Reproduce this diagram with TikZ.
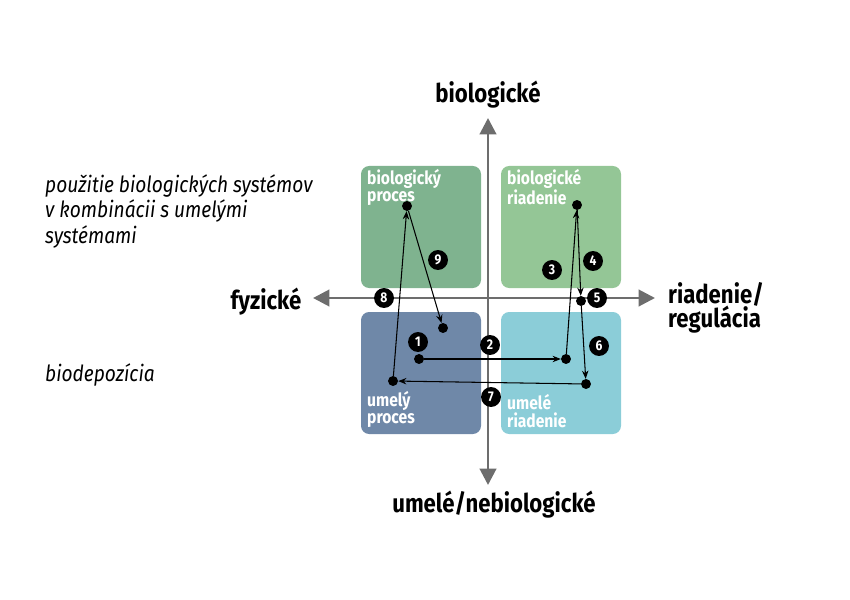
\documentclass[tikz,border=0pt]{standalone}
\usepackage{fontspec}
\setmainfont{Fira Sans}[FakeStretch=0.86]
\usetikzlibrary{arrows.meta}
\definecolor{procgreen}{RGB}{127,179,143}
\definecolor{ctrlgreen}{RGB}{148,198,150}
\definecolor{procblue}{RGB}{111,136,168}
\definecolor{ctrlcyan}{RGB}{139,205,216}
\definecolor{axisgray}{RGB}{109,109,109}
\tikzset{
  quad/.style={rounded corners=7pt},
  quadlabel/.style={text=white,font=\bfseries\fontsize{15.5}{15}\selectfont,align=left,inner sep=0pt},
  axis/.style={line width=2.5pt,draw=axisgray,{Triangle[length=14pt,width=14pt]}-{Triangle[length=14pt,width=14pt]}},
  axislabel/.style={font=\bfseries\fontsize{22}{21}\selectfont,align=left},
  sidetext/.style={font=\itshape\fontsize{19}{22}\selectfont,align=left,anchor=north west,inner sep=0pt},
  dot/.style={circle,fill=black,inner sep=0pt,minimum size=8.5pt},
  badge/.style={circle,fill=black,text=white,font=\bfseries\fontsize{12}{12}\selectfont,inner sep=0pt,minimum size=17pt},
  flow/.style={line width=0.9pt,-{Stealth[length=7pt,width=5.5pt]}}
}
\begin{document}
\begin{tikzpicture}[x=0.03cm,y=-0.03cm]
  \useasboundingbox (0,0) rectangle (850,600);
  \def\w{120}
  \def\h{122}
  %quadrants
  \fill[quad,procgreen] (361,166) rectangle ++(\w,\h);
  \fill[quad,ctrlgreen] (501,166) rectangle ++(\w,\h);
  \fill[quad,procblue] (361,312) rectangle ++(\w,\h);
  \fill[quad,ctrlcyan] (501,312) rectangle ++(\w,\h);
  \node[quadlabel,anchor=north west] (lbp) at (367,169) {biologický\\proces};
  \node[quadlabel,anchor=north west] (lbr) at (507,169) {biologické\\riadenie};
  \node[quadlabel,anchor=south west] (lup) at (367,428) {umelý\\proces};
  \node[quadlabel,anchor=south west] (lur) at (507,428) {umelé\\riadenie};
  %axes
  \coordinate (xl) at (313,298);
  \coordinate (xr) at (655,298);
  \coordinate (yt) at (488,118);
  \coordinate (yb) at (488,485);
  \draw[axis] (xl) -- (xr);
  \draw[axis] (yb) -- (yt);
  \node[axislabel] (top) at (488,95) {biologické};
  \node[axislabel] (left) at (266,302) {fyzické};
  \node[axislabel,anchor=west] (right) at (664,308) {riadenie/\\regulácia};
  \node[axislabel] (bottom) at (494,505) {umelé/nebiologické};
  %side notes
  \node[sidetext] (combi) at (45,174) {použitie biologických systémov\\v kombinácii s umelými\\systémami};
  \node[sidetext,anchor=west] (depo) at (45,375) {biodepozícia};
  %points
  \node[dot] (bp) at (407,206) {};
  \node[dot] (br) at (577,205) {};
  \node[dot] (ax) at (581,301) {};
  \node[dot] (st) at (419,359) {};
  \node[dot] (ur) at (566,359) {};
  \node[dot] (ud) at (586,384) {};
  \node[dot] (up) at (393,381) {};
  \node[dot] (end) at (443,328) {};
  %path
  \draw[flow] (st) -- (ur);
  \draw[flow] (ur) -- (br);
  \draw[flow] (br) -- (ax);
  \draw[flow] (ax) -- (ud);
  \draw[flow] (ud) -- (up);
  \draw[flow] (up) -- (bp);
  \draw[flow] (bp) -- (end);
  %steps
  \foreach \n/\x/\y in {1/418/342,2/490/345,3/552/270,4/593/261,5/597/298,6/599/346,7/491/397,8/384/298,9/438/260}
    \node[badge] (s\n) at (\x,\y) {\n};
\end{tikzpicture}
\end{document}
